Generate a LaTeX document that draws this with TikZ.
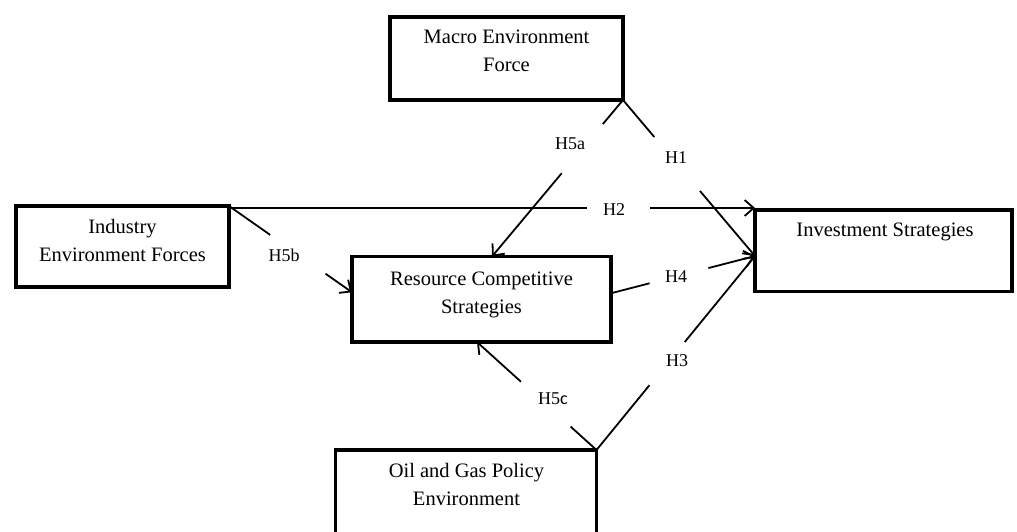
\documentclass[tikz,border=0pt]{standalone}
\usepackage{fontspec}
\setmainfont{Liberation Serif}
\newfontfamily\labcfont{Carlito}
\usetikzlibrary{arrows.meta,calc}
\begin{document}
\begin{tikzpicture}[x=1pt,y=-1pt,
  box/.style={draw, line width=3.7pt, line join=miter, outer sep=0pt, inner sep=0pt},
  txt/.style={font=\fontsize{20.5}{28}\selectfont, align=center, inner sep=0pt, anchor=north},
  conn/.style={line width=1.8pt},
  arr/.style={conn, -{Straight Barb[length=9pt,width=16pt]}},
  hlab/.style={font=\fontsize{18}{20}\selectfont, inner sep=0pt}]
\useasboundingbox (0,0) rectangle (1017,531);
% boxes
\node[box, minimum width=233pt, minimum height=83pt] (macro) at (506.5,58.5) {};
\node[box, minimum width=213pt, minimum height=81pt] (ind) at (122.5,246.5) {};
\node[box, minimum width=259pt, minimum height=85.5pt] (rcs) at (481.5,299.25) {};
\node[box, minimum width=257pt, minimum height=81.5pt] (inv) at (883.5,250.75) {};
\node[box, minimum width=261pt, minimum height=88pt] (oil) at (466,494) {};
% texts
\node[txt] (macrot) at (506.5,30) {Macro Environment\\Force};
\node[txt] (indt) at (122.5,219) {Industry\\Environment Forces};
\node[txt] (rcst) at (481.5,272) {Resource Competitive\\Strategies};
\node[txt] (invt) at (885,223) {Investment Strategies};
\node[txt] (oilt) at (466.5,463) {Oil and Gas Policy\\Environment};
% connection points
\coordinate (invin) at (755,256);
\coordinate (rcstop) at ($(rcs.north)+(10.5,0)$);
\coordinate (rcsbot) at ($(rcs.south)+(-4.5,0)$);
\coordinate (rcsleft) at ($(rcs.west)+(0,-7)$);
\coordinate (rcsright) at ($(rcs.east)+(0,-6)$);
\coordinate (h2start) at ($(ind.north east)+(0,2)$);
\coordinate (h2end) at ($(inv.north west)+(0,-2)$);
% H1
\path (macro.south east) -- (invin) coordinate[pos=0.237] (h1a) coordinate[pos=0.583] (h1b);
\draw[conn] (macro.south east) -- (h1a);
\draw[arr] (h1b) -- (invin);
\node[hlab] (h1) at (676,158) {H1};
% H5a
\path (macro.south east) -- (rcstop) coordinate[pos=0.154] (h5aa) coordinate[pos=0.468] (h5ab);
\draw[conn] (macro.south east) -- (h5aa);
\draw[arr] (h5ab) -- (rcstop);
\node[hlab] (h5a) at (570,144) {H5a};
% H2
\path (h2start) -- (h2end) coordinate[pos=0.681] (h2a) coordinate[pos=0.801] (h2b);
\draw[conn] (h2start) -- (h2a);
\draw[arr] (h2b) -- (h2end);
\node[hlab] (h2) at (614,210) {H2};
% H5b
\path (ind.north east) -- (rcsleft) coordinate[pos=0.335] (h5ba) coordinate[pos=0.785] (h5bb);
\draw[conn] (ind.north east) -- (h5ba);
\draw[arr] (h5bb) -- (rcsleft);
\node[hlab] (h5b) at (284,255) {H5b};
% H4
\path (rcsright) -- (invin) coordinate[pos=0.268] (h4a) coordinate[pos=0.676] (h4b);
\draw[conn] (rcsright) -- (h4a);
\draw[arr] (h4b) -- (invin);
\node[hlab] (h4) at (676,277) {H4};
% H3
\path (oil.north east) -- (invin) coordinate[pos=0.334] (h3a) coordinate[pos=0.557] (h3b);
\draw[conn] (oil.north east) -- (h3a);
\draw[arr] (h3b) -- (invin);
\node[hlab] (h3) at (677,361) {H3};
% H5c
\path (oil.north east) -- (rcsbot) coordinate[pos=0.217] (h5ca) coordinate[pos=0.632] (h5cb);
\draw[conn] (oil.north east) -- (h5ca);
\draw[arr] (h5cb) -- (rcsbot);
\node[hlab] (h5c) at (553,399) {H5{\labcfont c}};
\end{tikzpicture}
\end{document}
